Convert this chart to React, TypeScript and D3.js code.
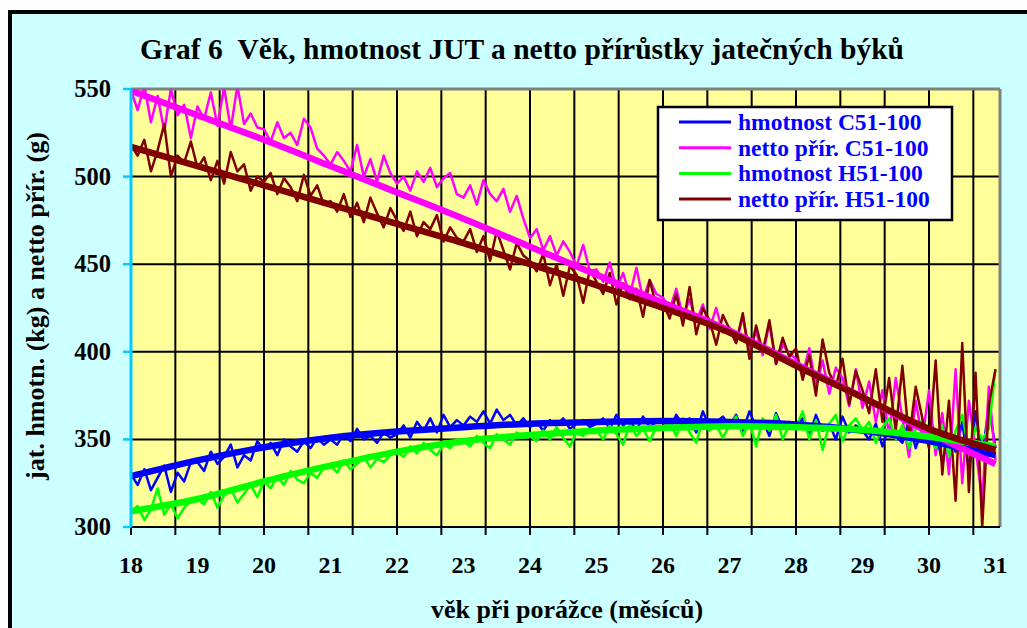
import React from 'react';
import * as d3 from 'd3';

// ---- data ----
const trendMonths = [18, 19, 20, 21, 22, 23, 24, 25, 26, 27, 28, 29, 30, 31];
const xTickLabels = ['18', '19', '20', '21', '22', '23', '24', '25', '26', '27', '28', '29', '30', '31'];
const yTicks = [300, 350, 400, 450, 500, 550];

const trendWeightC = [329, 338, 345.5, 351, 354.5, 357, 359, 360, 360.5, 360, 358.5, 355, 349, 341];
const trendGainC = [549, 535, 521, 506, 491, 476, 460, 444, 428, 412, 393, 374, 354, 336];
const trendWeightH = [309, 316, 326, 335, 343, 349, 352.5, 355, 356.5, 357.5, 357, 355.5, 351.5, 346];
const trendGainH = [517, 506, 495, 484, 473, 462, 450, 438, 425, 411, 392, 374, 356, 344];

// raw values, one every 0.1 month from 18.0 to 31.0
const weightC = [
  330, 324, 333, 321, 328, 335, 320, 331, 326, 337,
  337, 332, 343, 336, 340, 347, 334, 341, 338, 349,
  344, 348, 341, 350, 346, 343, 349, 345, 351, 347,
  350, 347, 353, 349, 356, 350, 352, 348, 354, 351,
  353, 358, 351, 360, 355, 362, 354, 364, 357, 361,
  358, 363, 360, 366, 359, 367, 361, 364, 358, 362,
  357, 360, 355, 361, 358, 362, 356, 359, 361, 357,
  359, 362, 356, 364, 358, 361, 355, 363, 357, 360,
  361, 356, 364, 358, 362, 354, 366, 357, 360, 363,
  358, 364, 355, 366, 357, 361, 352, 365, 356, 360,
  357, 362, 352, 364, 355, 359, 350, 363, 354, 358,
  355, 350, 359, 346, 357, 352, 348, 361, 345, 356,
  349, 355, 337, 352, 343, 360, 332, 366, 340, 369,
  345,
];
const gainC = [
  549, 538, 552, 531, 546, 526, 550, 535, 541, 522,
  540, 533, 548, 529, 551, 527, 552, 530, 536, 528,
  527, 520, 531, 522, 525, 518, 533, 528, 516, 512,
  507, 514, 509, 503, 518, 500, 510, 497, 512, 502,
  496, 500, 492, 503, 497, 505, 494, 499, 502, 490,
  488, 495, 484, 498, 490, 486, 493, 480, 489, 476,
  465, 470, 458, 466, 455, 463, 457, 449, 461, 446,
  447, 440, 451, 436, 445, 432, 448, 430, 441, 433,
  431, 424, 436, 420, 430, 417, 427, 413, 425, 411,
  414, 405, 420, 401, 412, 398, 416, 393, 404, 399,
  396, 387, 402, 380, 395, 376, 391, 385, 369, 390,
  368, 383, 360, 378, 352, 385, 362, 340, 372, 350,
  378, 341, 365, 330, 390, 325, 372, 345, 315, 380,
  338,
];
const weightH = [
  309, 312, 304, 310, 322, 307, 313, 305, 311, 315,
  316, 313, 320, 311, 318, 322, 314, 319, 324, 317,
  326, 322, 329, 324, 332, 327, 325, 331, 328, 334,
  335, 331, 338, 333, 336, 340, 334, 339, 337, 341,
  343, 340, 346, 342, 348, 344, 341, 347, 345, 350,
  349, 346, 352, 348, 345, 353, 350, 347, 354, 351,
  352, 349, 355, 350, 357, 351, 346, 354, 352, 356,
  355, 350, 358, 353, 347, 359, 352, 356, 349, 357,
  356, 360, 352, 362, 354, 348, 361, 355, 358, 351,
  358, 363, 352, 360, 346, 362, 355, 364, 350, 359,
  357, 366, 350, 361, 344, 359, 364, 349, 358, 362,
  355, 360, 348, 357, 362, 350, 358, 345, 356, 361,
  352, 345, 358, 340, 355, 364, 343, 357, 350, 356,
  390,
];
const gainH = [
  518, 512, 521, 503, 515, 530, 500, 512, 508, 520,
  505, 511, 498, 509, 496, 514, 503, 507, 492, 500,
  497, 502, 490, 499, 494, 486, 501, 489, 495, 484,
  486, 480, 490, 477, 485, 474, 488, 479, 471, 482,
  475, 469, 480, 466, 474, 470, 478, 463, 471, 465,
  463, 470, 457, 466, 452, 469, 458, 447, 462, 455,
  452, 446, 456, 438, 450, 432, 449, 444, 428, 447,
  440, 433, 445, 427, 439, 430, 436, 420, 441, 426,
  428, 419, 433, 415, 437, 410, 425, 418, 404, 421,
  413, 405, 422, 396, 415, 400, 418, 393, 408, 397,
  402, 384, 398, 375, 407, 388, 380, 396, 370, 389,
  378, 365, 390, 360, 385, 355, 392, 350, 380, 362,
  345, 395, 330, 372, 315, 405, 320, 388, 300, 370,
  390,
];

const seriesNames = ['hmotnost C51-100', 'netto přír. C51-100', 'hmotnost H51-100', 'netto přír. H51-100'];
const seriesColors = ['#0000FF', '#FF00FF', '#00FF00', '#800000'];

const W = 1027;
const H = 628;
const left = 131;
const right = 1000;
const top = 89;
const bottom = 527;

export default function App() {
  const x = d3.scaleLinear().domain([18, 31]).range([left, 995.5]);
  const y = d3.scaleLinear().domain([300, 550]).range([bottom, top]);
  const ageAt = (i: number) => 18 + i / 10;

  const rawLine = d3
    .line<number>()
    .x((_, i) => x(ageAt(i)))
    .y((d) => y(d));
  const trendLine = d3
    .line<number>()
    .x((_, i) => x(trendMonths[i]))
    .y((d) => y(d))
    .curve(d3.curveNatural);

  const raws = [weightC, gainC, weightH, gainH];
  const trends = [trendWeightC, trendGainC, trendWeightH, trendGainH];

  // vertical grid every 2/3 month
  const gridX: number[] = [];
  for (let k = 1; k <= 19; k++) gridX.push(18 + (k * 2) / 3);
  const tickX = [18, ...gridX];

  const font = '"Liberation Serif", "Times New Roman", serif';

  return (
    <svg width={W} height={H} style={{ position: 'absolute', left: 0, top: 0 }} fontFamily={font}>
      <rect x={0} y={0} width={W} height={H} fill="#ffffff" />
      <rect x={10} y={12} width={1040} height={640} fill="#CCFFFF" stroke="#000" strokeWidth={4} />
      <defs>
        <clipPath id="plotclip">
          <rect x={left} y={top} width={right - left} height={bottom - top} />
        </clipPath>
      </defs>
      <text x={522} y={59} textAnchor="middle" fontSize={29.5} fontWeight="bold" fill="#000">
        Graf 6{'\u00A0\u00A0'}Věk, hmotnost JUT a netto přírůstky jatečných býků
      </text>
      <rect x={left} y={top} width={right - left} height={bottom - top} fill="#FFFF99" />
      {gridX.map((g, i) => (
        <line key={'gx' + i} x1={x(g)} x2={x(g)} y1={top} y2={bottom} stroke="#000" strokeWidth={2} />
      ))}
      {yTicks.slice(1, -1).map((t) => (
        <line key={'gy' + t} x1={left} x2={right} y1={y(t)} y2={y(t)} stroke="#000" strokeWidth={2} />
      ))}
      <line x1={left} x2={right} y1={top} y2={top} stroke="#808080" strokeWidth={3} />
      <line x1={right} x2={right} y1={top} y2={bottom} stroke="#808080" strokeWidth={3} />
      <g clipPath="url(#plotclip)">
        {raws.map((r, i) => (
          <path key={'r' + i} d={rawLine(r) || ''} fill="none" stroke={seriesColors[i]} strokeWidth={2.5} strokeLinejoin="round" />
        ))}
        {trends.map((t, i) => (
          <path key={'t' + i} d={trendLine(t) || ''} fill="none" stroke={seriesColors[i]} strokeWidth={6.5} />
        ))}
      </g>
      {/* bottom axis */}
      <line x1={left} x2={right} y1={bottom} y2={bottom} stroke="#000" strokeWidth={2} />
      {tickX.map((g, i) => (
        <line key={'tx' + i} x1={x(g)} x2={x(g)} y1={bottom} y2={bottom + 8} stroke="#000" strokeWidth={2} />
      ))}
      {trendMonths.map((m, i) => (
        <text key={'xl' + m} x={x(m)} y={573} textAnchor="middle" fontSize={24} fontWeight="bold" fill="#000">
          {xTickLabels[i]}
        </text>
      ))}
      {/* left axis */}
      <line x1={left} x2={left} y1={top} y2={bottom} stroke="#00CCFF" strokeWidth={3} />
      {yTicks.map((t) => (
        <g key={'yt' + t}>
          <line x1={left - 8} x2={left} y1={y(t)} y2={y(t)} stroke="#00CCFF" strokeWidth={2.5} />
          <text x={111} y={y(t) + 8} textAnchor="end" fontSize={24.5} fontWeight="bold" fill="#000">
            {t}
          </text>
        </g>
      ))}
      <text
        transform={`translate(44,306) rotate(-90)`}
        textAnchor="middle"
        fontSize={26}
        fontWeight="bold"
        fill="#000"
      >
        jat. hmotn. (kg) a netto přír. (g)
      </text>
      <text x={567} y={618} textAnchor="middle" fontSize={26} fontWeight="bold" fill="#000">
        věk při porážce (měsíců)
      </text>
      {/* legend */}
      <rect x={658} y={107} width={294} height={113} fill="#fff" stroke="#000" strokeWidth={2.5} />
      {seriesNames.map((n, i) => (
        <g key={'lg' + i}>
          <line x1={679} x2={731} y1={122 + i * 25.7} y2={122 + i * 25.7} stroke={seriesColors[i]} strokeWidth={3} />
          <text x={738} y={130 + i * 25.7} fontSize={23.5} fontWeight="bold" fill="#0000FF">
            {n}
          </text>
        </g>
      ))}
    </svg>
  );
}
